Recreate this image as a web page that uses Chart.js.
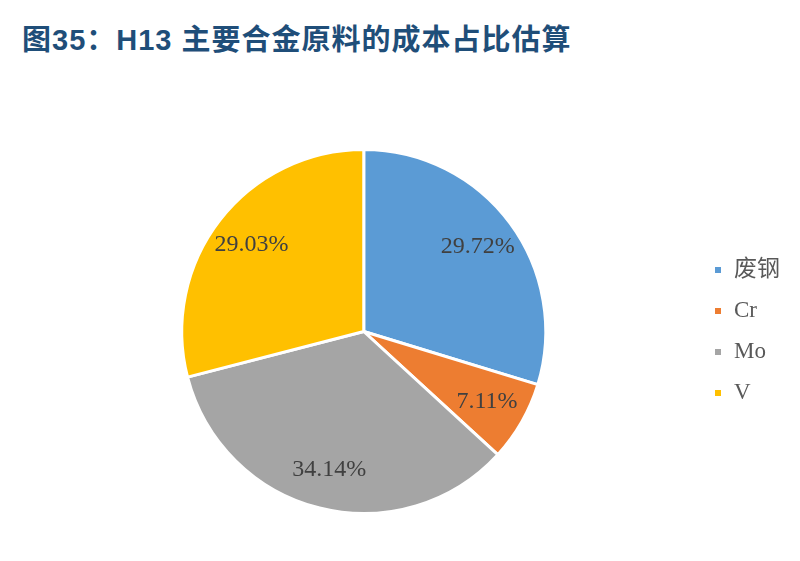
<!DOCTYPE html>
<html><head><meta charset="utf-8">
<script src="https://cdn.jsdelivr.net/npm/chart.js@4/dist/chart.umd.min.js"></script>
<style>
html,body{margin:0;padding:0;background:#fff;}
#wrap{position:relative;width:800px;height:561px;}
#title{position:absolute;left:22px;top:22px;font-family:'Liberation Sans','Noto Sans CJK SC',sans-serif;font-weight:bold;font-size:29px;color:#1F4E79;letter-spacing:1px;white-space:nowrap;line-height:1.3;}
canvas{position:absolute;left:0;top:0;}
</style></head>
<body><div id="wrap"><div id="title">图35：H13 主要合金原料的成本占比估算</div><canvas id="c" width="800" height="561"></canvas></div>
<script>
const categories = ['废钢', 'Cr', 'Mo', 'V'];
const shares = [29.72, 7.11, 34.14, 29.03];
const colors = ['#5B9BD5', '#ED7D31', '#A5A5A5', '#FFC000'];

const labelPlugin = {
  id: 'sliceLabels',
  afterDatasetsDraw(chart) {
    const ctx = chart.ctx;
    const meta = chart.getDatasetMeta(0);
    ctx.save();
    ctx.font = '24px "Liberation Serif", serif';
    ctx.fillStyle = '#404040';
    ctx.textAlign = 'center';
    ctx.textBaseline = 'middle';
    meta.data.forEach((arc, i) => {
      const p = arc.getProps(['x','y','startAngle','endAngle','outerRadius'], true);
      const a = (p.startAngle + p.endAngle) / 2;
      const r = p.outerRadius * 0.78;
      ctx.fillText(shares[i].toFixed(2) + '%', p.x + Math.cos(a) * r, p.y + Math.sin(a) * r);
    });
    ctx.restore();
  }
};

new Chart(document.getElementById('c'), {
  type: 'pie',
  data: {
    labels: categories,
    datasets: [{ data: shares, backgroundColor: colors, borderColor: '#FFFFFF', borderWidth: 3 }]
  },
  options: {
    responsive: false,
    animation: false,
    layout: { padding: { top: 148, bottom: 46, left: 32, right: 10 } },
    plugins: {
      legend: {
        position: 'right',
        labels: {
          boxWidth: 9, boxHeight: 9, padding: 18,
          color: '#595959',
          font: { family: '"Liberation Serif", "Noto Sans CJK SC", serif', size: 23 }
        }
      },
      tooltip: { enabled: false },
      title: { display: false }
    }
  },
  plugins: [labelPlugin]
});
</script></body></html>
